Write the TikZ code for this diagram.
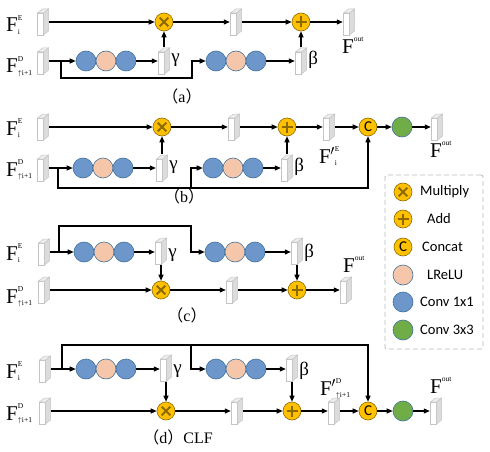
\documentclass[tikz,border=0pt]{standalone}
\usepackage{fontspec}
\setmainfont{Liberation Serif}
\newfontfamily\cjkf{Noto Sans CJK SC}
\newfontfamily\lgf{Carlito}
\usetikzlibrary{arrows.meta,calc}
\definecolor{opc}{HTML}{FFC000}
\definecolor{opl}{HTML}{8C6A00}
\definecolor{bluec}{HTML}{6D96CA}
\definecolor{peachc}{HTML}{F5C6A9}
\definecolor{greenc}{HTML}{70AD47}
\definecolor{circl}{HTML}{41719C}
\definecolor{blkl}{HTML}{C4C4C4}
\definecolor{blkside}{HTML}{DCDCDC}
\definecolor{blktop}{HTML}{EEEEEE}
\newcommand\SupSub[2]{\raisebox{-2.5pt}{\fontsize{7.5}{8}\selectfont\begin{tabular}[b]{@{}l@{}}#1\\[6pt]#2\end{tabular}}}
\newcommand\FF[2]{F\SupSub{#1}{#2}}
\newcommand\FP[2]{F\kern-0.5pt$^{\prime}$\SupSub{#1}{#2}}
\newcommand\FO[1]{F\raisebox{12pt}{\fontsize{7.5}{7.5}\selectfont #1}}
\newcommand\UPI{{\fontsize{7.5}{7.5}\selectfont$\uparrow$}i+1}
\tikzset{
  arr/.style={line width=1.1pt,-{Triangle[length=6pt,width=5pt]}},
  opnode/.style={circle,fill=opc,draw=opl,line width=0.6pt,minimum size=18pt,inner sep=0pt},
  mulnode/.style={opnode,path picture={
     \draw[line width=2.1pt] ($(path picture bounding box.center)+(-4.3pt,-4.3pt)$) -- ($(path picture bounding box.center)+(4.3pt,4.3pt)$);
     \draw[line width=2.1pt] ($(path picture bounding box.center)+(-4.3pt,4.3pt)$) -- ($(path picture bounding box.center)+(4.3pt,-4.3pt)$);}},
  addnode/.style={opnode,path picture={
     \draw[line width=2.1pt] ($(path picture bounding box.center)+(-5.5pt,0pt)$) -- ($(path picture bounding box.center)+(5.5pt,0pt)$);
     \draw[line width=2.1pt] ($(path picture bounding box.center)+(0pt,-5.5pt)$) -- ($(path picture bounding box.center)+(0pt,5.5pt)$);}},
  catnode/.style={opnode,font=\lgf\fontsize{15}{15}\selectfont},
  cv/.style={circle,draw=circl,line width=0.6pt,minimum size=20pt,inner sep=0pt,fill=bluec},
  lr/.style={cv,fill=peachc},
  gr/.style={cv,fill=greenc},
  blk/.style={rectangle,minimum width=12pt,minimum height=27pt,inner sep=0pt,path picture={
     \coordinate (bsw) at ($(path picture bounding box.south west)+(0.5pt,0.5pt)$);
     \filldraw[fill=white,draw=blkl,line width=0.5pt] (bsw) rectangle ($(bsw)+(6pt,22pt)$);
     \filldraw[fill=blkside,draw=blkl,line width=0.5pt] ($(bsw)+(6pt,0pt)$) -- ($(bsw)+(11pt,4pt)$) -- ($(bsw)+(11pt,26pt)$) -- ($(bsw)+(6pt,22pt)$) -- cycle;
     \filldraw[fill=blktop,draw=blkl,line width=0.5pt] ($(bsw)+(0pt,22pt)$) -- ($(bsw)+(6pt,22pt)$) -- ($(bsw)+(11pt,26pt)$) -- ($(bsw)+(5pt,26pt)$) -- cycle;}},
  lbl/.style={inner sep=0pt,anchor=base west,font=\fontsize{21}{21}\selectfont},
  gk/.style={inner sep=0pt,anchor=west,font=\fontsize{19}{19}\selectfont},
  captxt/.style={inner sep=0pt,font=\fontsize{16}{16}\selectfont},
  lgt/.style={inner sep=0pt,anchor=west,font=\lgf\fontsize{14.5}{14.5}\selectfont},
}
\begin{document}
\begin{tikzpicture}[x=1pt,y=-1pt]
\useasboundingbox (0,0) rectangle (490,452);
% ---------------- (a)
\node[blk] (aE) at (43,22) {};
\node[mulnode] (am) at (164,22) {};
\node[blk] (a2) at (236,22) {};
\node[addnode] (aa) at (301,22) {};
\node[blk] (aout) at (349,22) {};
\node[blk] (aD) at (43,61) {};
\node[cv] (ac1) at (86,61) {};
\node[lr] (ac2) at (106,61) {};
\node[cv] (ac3) at (126,61) {};
\node[blk] (ag) at (164,61) {};
\node[cv] (ac4) at (216,61) {};
\node[lr] (ac5) at (236,61) {};
\node[cv] (ac6) at (256,61) {};
\node[blk] (ab) at (301,61) {};
\coordinate (abr) at (61,61);
\draw[arr] (aE.east) -- (am.west);
\draw[arr] (am.east) -- (a2.west);
\draw[arr] (a2.east) -- (aa.west);
\draw[arr] (aa.east) -- (aout.west);
\draw[arr] (ag.north) -- (am.south);
\draw[arr] (ab.north) -- (aa.south);
\draw[arr] (aD.east) -- (ac1.west);
\draw[arr] (ac3.east) -- (ag.west);
\draw[arr] (ac6.east) -- (ab.west);
\draw[arr] (abr) -- (61,78) -| (192,61) -- (ac4.west);
\node[lbl] (aFE) at (6,32) {\FF{E}{i}};
\node[lbl] (aFD) at (6,73) {\FF{D}{\UPI}};
\node[lbl] (aFo) at (342,54) {\FO{out}};
\node[gk] (agl) at ($(ag.east)+(1pt,1pt)$) {γ};
\node[gk] (abl) at ($(ab.east)+(1pt,1pt)$) {β};
\node[captxt] (acap) at (182,96) {{\cjkf （}a{\cjkf ）}};
% ---------------- (b)
\node[blk] (bE) at (43,127) {};
\node[mulnode] (bm) at (162,127) {};
\node[blk] (b2) at (234,127) {};
\node[addnode] (ba) at (287,127) {};
\node[blk] (bF) at (329,127) {};
\node[catnode] (bcat) at (368,127) {C};
\node[gr] (bg3) at (402,127) {};
\node[blk] (bout) at (437,127) {};
\node[blk] (bD) at (43,168) {};
\node[cv] (bc1) at (83,168) {};
\node[lr] (bc2) at (103,168) {};
\node[cv] (bc3) at (123,168) {};
\node[blk] (bgam) at (162,168) {};
\node[cv] (bc4) at (213,168) {};
\node[lr] (bc5) at (233,168) {};
\node[cv] (bc6) at (253,168) {};
\node[blk] (bbet) at (287,168) {};
\coordinate (bbr) at (58,168);
\draw[arr] (bE.east) -- (bm.west);
\draw[arr] (bm.east) -- (b2.west);
\draw[arr] (b2.east) -- (ba.west);
\draw[arr] (ba.east) -- (bF.west);
\draw[arr] (bF.east) -- (bcat.west);
\draw[arr] (bcat.east) -- (bg3.west);
\draw[arr] (bg3.east) -- (bout.west);
\draw[arr] (bgam.north) -- (bm.south);
\draw[arr] (bbet.north) -- (ba.south);
\draw[arr] (bD.east) -- (bc1.west);
\draw[arr] (bc3.east) -- (bgam.west);
\draw[arr] (bc6.east) -- (bbet.west);
\draw[arr] (bbr) -- (58,188) -| (bcat.south);
\draw[arr] (191,188) -- (191,168) -- (bc4.west);
\node[lbl] (bFE) at (6,135) {\FF{E}{i}};
\node[lbl] (bFD) at (6,176) {\FF{D}{\UPI}};
\node[lbl] (bFp) at (319,163) {\FP{E}{i}};
\node[lbl] (bFo) at (430,157) {\FO{out}};
\node[gk] (bgl) at ($(bgam.east)+(1pt,1pt)$) {γ};
\node[gk] (bbl) at ($(bbet.east)+(1pt,1pt)$) {β};
\node[captxt] (bcap) at (184,196) {{\cjkf （}b{\cjkf ）}};
% ---------------- (c)
\node[blk] (cE) at (44,252) {};
\node[cv] (cc1) at (84,252) {};
\node[lr] (cc2) at (104,252) {};
\node[cv] (cc3) at (124,252) {};
\node[blk] (cgam) at (161,251) {};
\node[cv] (cc4) at (215,252) {};
\node[lr] (cc5) at (235,252) {};
\node[cv] (cc6) at (255,252) {};
\node[blk] (cbet) at (297,251) {};
\node[blk] (cD) at (44,290) {};
\node[mulnode] (cm) at (161,290) {};
\node[blk] (c2) at (232,290) {};
\node[addnode] (ca) at (297,290) {};
\node[blk] (cout) at (346,290) {};
\coordinate (cbr) at (59,252);
\draw[arr] (cE.east) -- (cc1.west);
\draw[arr] (cc3.east) -- (cgam.west |- cc3);
\draw[arr] (cc6.east) -- (cbet.west |- cc6);
\draw[arr] (cbr) -- (59,226) -| (191,252) -- (cc4.west);
\draw[arr] (cgam.south) -- (cm.north);
\draw[arr] (cbet.south) -- (ca.north);
\draw[arr] (cD.east) -- (cm.west);
\draw[arr] (cm.east) -- (c2.west);
\draw[arr] (c2.east) -- (ca.west);
\draw[arr] (ca.east) -- (cout.west);
\node[lbl] (cFE) at (6,260) {\FF{E}{i}};
\node[lbl] (cFD) at (6,303) {\FF{D}{\UPI}};
\node[lbl] (cFo) at (343,272) {\FO{out}};
\node[gk] (cgl) at ($(cgam.east)+(1pt,-4pt)$) {γ};
\node[gk] (cbl) at ($(cbet.east)+(1pt,-2pt)$) {β};
\node[captxt] (ccap) at (187,315) {{\cjkf （}c{\cjkf ）}};
% ---------------- (d)
\node[blk] (dE) at (45,369) {};
\node[cv] (dc1) at (86,369) {};
\node[lr] (dc2) at (106,369) {};
\node[cv] (dc3) at (126,369) {};
\node[blk] (dgam) at (166,368) {};
\node[cv] (dc4) at (216,369) {};
\node[lr] (dc5) at (236,369) {};
\node[cv] (dc6) at (256,369) {};
\node[blk] (dbet) at (292,368) {};
\node[blk] (dD) at (45,411) {};
\node[mulnode] (dm) at (166,411) {};
\node[blk] (d2) at (237,411) {};
\node[addnode] (da) at (292,411) {};
\node[blk] (dF) at (334,411) {};
\node[catnode] (dcat) at (368,411) {C};
\node[gr] (dg3) at (403,411) {};
\node[blk] (dout) at (436,411) {};
\coordinate (dbr) at (62,369);
\draw[arr] (dE.east) -- (dc1.west);
\draw[arr] (dc3.east) -- (dgam.west |- dc3);
\draw[arr] (dc6.east) -- (dbet.west |- dc6);
\draw[arr] (dbr) -- (62,345) -| (dcat.north);
\draw[arr] (191,345) -- (191,369) -- (dc4.west);
\draw[arr] (dgam.south) -- (dm.north);
\draw[arr] (dbet.south) -- (da.north);
\draw[arr] (dD.east) -- (dm.west);
\draw[arr] (dm.east) -- (d2.west);
\draw[arr] (d2.east) -- (da.west);
\draw[arr] (da.east) -- (dF.west);
\draw[arr] (dF.east) -- (dcat.west);
\draw[arr] (dcat.east) -- (dg3.west);
\draw[arr] (dg3.east) -- (dout.west);
\node[lbl] (dFE) at (6,378) {\FF{E}{i}};
\node[lbl] (dFD) at (6,420) {\FF{D}{\UPI}};
\node[lbl] (dFp) at (320,395) {\FP{D}{\UPI}};
\node[lbl] (dFo) at (430,393) {\FO{out}};
\node[gk] (dgl) at ($(dgam.east)+(1pt,-3pt)$) {γ};
\node[gk] (dbl) at ($(dbet.east)+(1pt,-3pt)$) {β};
\node[captxt] (dcap) at (178,437) {{\cjkf （}d{\cjkf ）}CLF};
% ---------------- legend
\node[draw=gray!55,dash pattern=on 5pt off 3pt,line width=0.8pt,rounded corners=2pt,minimum width=98pt,minimum height=174pt,inner sep=0pt] (leg) at (434,262) {};
\node[mulnode] (lm) at (403,192) {};
\node[lgt] (lmt) at (420,192) {Multiply};
\node[addnode] (la) at (403,219) {};
\node[lgt] (lat) at (427,219) {Add};
\node[catnode] (lc) at (403,247) {C};
\node[lgt] (lct) at (422,247) {Concat};
\node[lr] (ll) at (403,275) {};
\node[lgt] (llt) at (427,275) {LReLU};
\node[cv] (lv) at (403,302) {};
\node[lgt] (lvt) at (420,302) {Conv 1x1};
\node[gr] (lg) at (403,330) {};
\node[lgt] (lgt3) at (420,330) {Conv 3x3};
\end{tikzpicture}
\end{document}
